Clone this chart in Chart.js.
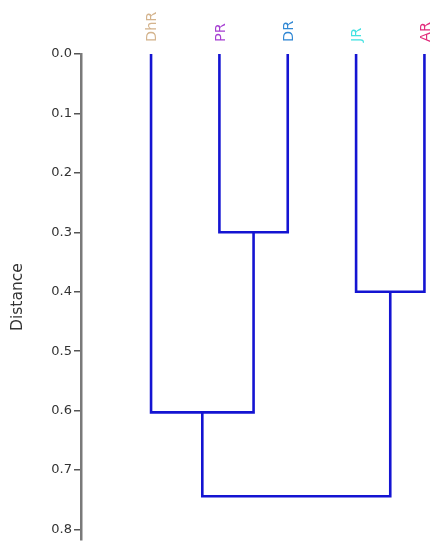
<!DOCTYPE html>
<html>
<head>
<meta charset="utf-8">
<script src="https://cdn.jsdelivr.net/npm/chart.js@4.4.0/dist/chart.umd.min.js"></script>
<style>
    html, body { margin: 0; padding: 0; background: #fff; }
    #wrap { width: 444px; height: 550px; }
</style>
</head>
<body>
<div id="wrap"><canvas id="chart"></canvas></div>
<script>
// leaves, left to right
var leaves = ['DhR', 'PR', 'DR', 'JR', 'AR'];
var leafColors = ['#d4b48e', '#a63fd2', '#3288d4', '#44e2e2', '#e22c7c'];

// merges: cluster a, cluster b, distance (clusters 0-4 are leaves, 5+ are merges in order)
var mergeA = [1, 3, 0, 7];
var mergeB = [2, 4, 5, 6];
var mergeDist = [0.30, 0.40, 0.603, 0.744];

var yTicks = [0.0, 0.1, 0.2, 0.3, 0.4, 0.5, 0.6, 0.7, 0.8];

var lineColor = '#1414d2';

// build the U shaped links
var posX = leaves.map(function (l, i) { return i; });
var posH = leaves.map(function () { return 0; });
var datasets = [];
for (var i = 0; i < mergeDist.length; i++) {
    var a = mergeA[i], b = mergeB[i], h = mergeDist[i];
    if (posX[a] > posX[b]) { var t = a; a = b; b = t; }
    var xa = posX[a], xb = posX[b];
    datasets.push({
        data: [
            {x: xa, y: posH[a]},
            {x: xa, y: h},
            {x: xb, y: h},
            {x: xb, y: posH[b]}
        ],
        borderColor: lineColor,
        borderWidth: 2.6,
        pointRadius: 0,
        tension: 0,
        fill: false
    });
    posX.push((xa + xb) / 2);
    posH.push(h);
}

var family = "'DejaVu Sans', 'Noto Sans', sans-serif";

new Chart(document.getElementById('chart'), {
    type: 'line',
    data: {datasets: datasets},
    options: {
        responsive: true,
        maintainAspectRatio: false,
        animation: false,
        layout: {padding: {top: 0, right: 10, bottom: 0, left: 0}},
        plugins: {
            legend: {display: false},
            tooltip: {enabled: false}
        },
        scales: {
            x: {
                type: 'linear',
                position: 'top',
                min: -1.025,
                max: 4.14,
                afterBuildTicks: function (scale) {
                    scale.ticks = leaves.map(function (l, i) { return {value: i}; });
                },
                afterFit: function (scale) { scale.height = 54; },
                grid: {display: false, drawTicks: false},
                border: {display: false},
                ticks: {
                    minRotation: 90,
                    maxRotation: 90,
                    padding: 12,
                    labelOffset: 19,
                    autoSkip: false,
                    font: {family: family, size: 14.5},
                    color: function (ctx) { return leafColors[ctx.index]; },
                    callback: function (v, i) { return leaves[i]; }
                }
            },
            y: {
                type: 'linear',
                reverse: true,
                min: 0,
                max: 0.818,
                afterBuildTicks: function (scale) {
                    scale.ticks = yTicks.map(function (v) { return {value: v}; });
                },
                afterFit: function (scale) { scale.width = 81; },
                grid: {
                    drawOnChartArea: false,
                    drawTicks: true,
                    tickLength: 7,
                    color: '#555',
                    lineWidth: 1.5
                },
                border: {display: true, color: '#7a7a7a', width: 2.5},
                ticks: {
                    font: {family: family, size: 13},
                    color: '#333',
                    padding: 2,
                    callback: function (v) { return v.toFixed(1); }
                },
                title: {
                    display: true,
                    text: 'Distance',
                    font: {family: family, size: 15.5},
                    color: '#333',
                    padding: {top: 9, bottom: 4}
                }
            }
        }
    }
});
</script>
</body>
</html>
